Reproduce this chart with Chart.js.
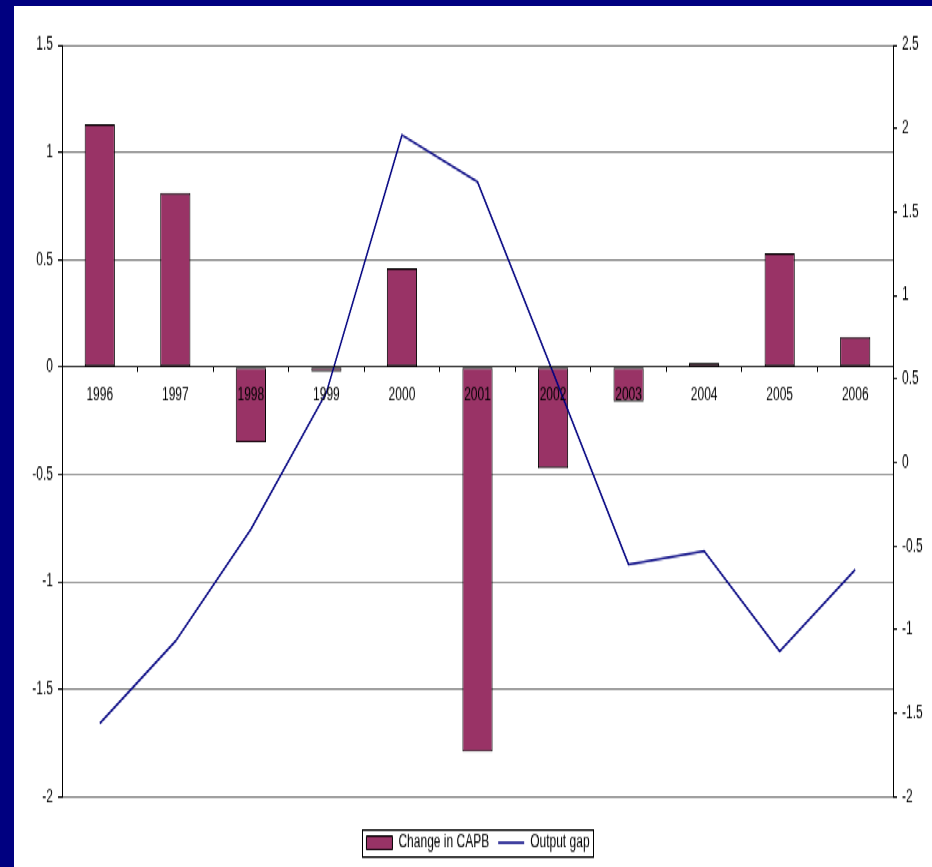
<!DOCTYPE html>
<html>
<head>
<meta charset="utf-8">
<title>Change in CAPB and output gap</title>
<script src="https://cdn.jsdelivr.net/npm/chart.js@4.4.0/dist/chart.umd.min.js"></script>
<style>
html, body { margin: 0; padding: 0; background: #000080; }
body { width: 932px; height: 867px; overflow: hidden; position: relative; }
/* the chart is laid out flat and stretched tall, like the old slide */
#frame { position: absolute; left: 14px; top: 6px; width: 918px; height: 574px; background: #fff;
         transform: scaleY(1.5); transform-origin: 0 0; }
</style>
</head>
<body>
<div id="frame"><canvas id="gapChart" width="918" height="574"></canvas></div>
<script>
var years = ['1996', '1997', '1998', '1999', '2000', '2001', '2002', '2003', '2004', '2005', '2006'];
var capbChange = [1.13, 0.81, -0.35, -0.02, 0.46, -1.79, -0.47, -0.16, 0.02, 0.53, 0.14];
var outputGap = [-1.56, -1.07, -0.40, 0.42, 1.96, 1.68, 0.54, -0.61, -0.53, -1.13, -0.64];
var leftRange = [-2, 1.5];
var rightRange = [-2, 2.5];
var tickStep = 0.5;

Chart.defaults.font.family = '"Liberation Sans", Arial, sans-serif';
Chart.defaults.font.size = 12;
Chart.defaults.color = '#000';

// plain numbers on the value axes: 1, -2, 0.5
function plainTick(v) { return String(v); }

// box around the legend items
var legendFrame = {
    id: 'legendFrame',
    afterDraw: function(chart) {
        var boxes = chart.legend.legendHitBoxes;
        if (!boxes || !boxes.length) return;
        var l = Infinity, r = -Infinity, t = Infinity, b = -Infinity;
        boxes.forEach(function(h) {
            l = Math.min(l, h.left); r = Math.max(r, h.left + h.width);
            t = Math.min(t, h.top); b = Math.max(b, h.top + h.height);
        });
        var ctx = chart.ctx;
        ctx.save();
        ctx.strokeStyle = '#000';
        ctx.lineWidth = 1;
        ctx.strokeRect(Math.round(l - 4) + 0.5, Math.round(t - 3) + 0.5, Math.round(r - l + 8), Math.round(b - t + 6));
        ctx.restore();
    }
};

var ctx = document.getElementById('gapChart').getContext('2d');
var chart = new Chart(ctx, {
    type: 'bar',
    data: {
        labels: years,
        datasets: [{
            type: 'bar',
            label: 'Change in CAPB',
            data: capbChange,
            yAxisID: 'y',
            backgroundColor: '#993366',
            borderColor: '#000',
            borderWidth: 1,
            borderSkipped: false,
            categoryPercentage: 1,
            barPercentage: 0.4,
            pointStyle: 'rect',
            order: 2
        }, {
            type: 'line',
            label: 'Output gap',
            data: outputGap,
            yAxisID: 'y1',
            borderColor: '#000080',
            backgroundColor: '#000080',
            borderWidth: 1.5,
            pointRadius: 0,
            pointStyle: 'line',
            tension: 0,
            fill: false,
            order: 1
        }]
    },
    options: {
        responsive: false,
        devicePixelRatio: 1,
        animation: false,
        layout: { padding: { top: 26, left: 10, right: 0, bottom: 0 } },
        plugins: {
            tooltip: { enabled: false },
            legend: {
                position: 'bottom',
                // empty title only pushes the legend row down from the plot
                title: { display: true, text: ' ', font: { size: 1 }, padding: { top: 14.5, bottom: 0 } },
                labels: {
                    usePointStyle: true,
                    pointStyleWidth: 26,
                    boxHeight: 9,
                    padding: 9,
                    color: '#000',
                    sort: function(a, b) { return a.datasetIndex - b.datasetIndex; }
                }
            }
        },
        scales: {
            x: {
                position: { y: 0 },
                grid: { offset: true, drawOnChartArea: false, tickLength: 3, tickColor: '#000', z: 1 },
                border: { color: '#000', width: 1, z: 1 },
                ticks: { padding: 9, maxRotation: 0, autoSkip: false, color: '#000', z: 1 }
            },
            y: {
                position: 'left',
                min: leftRange[0],
                max: leftRange[1],
                ticks: { stepSize: tickStep, padding: 5, color: '#000', callback: plainTick },
                grid: { color: '#808080', tickLength: 4, tickColor: '#000' },
                border: { color: '#000', width: 1 },
                afterFit: function(scale) { scale.width = 38; }
            },
            y1: {
                position: 'right',
                min: rightRange[0],
                max: rightRange[1],
                ticks: { stepSize: tickStep, padding: 5, color: '#000', callback: plainTick },
                grid: { drawOnChartArea: false, tickLength: 4, tickColor: '#000' },
                border: { color: '#000', width: 1 },
                afterFit: function(scale) { scale.width = 39; }
            }
        }
    },
    plugins: [legendFrame]
});
</script>
</body>
</html>
